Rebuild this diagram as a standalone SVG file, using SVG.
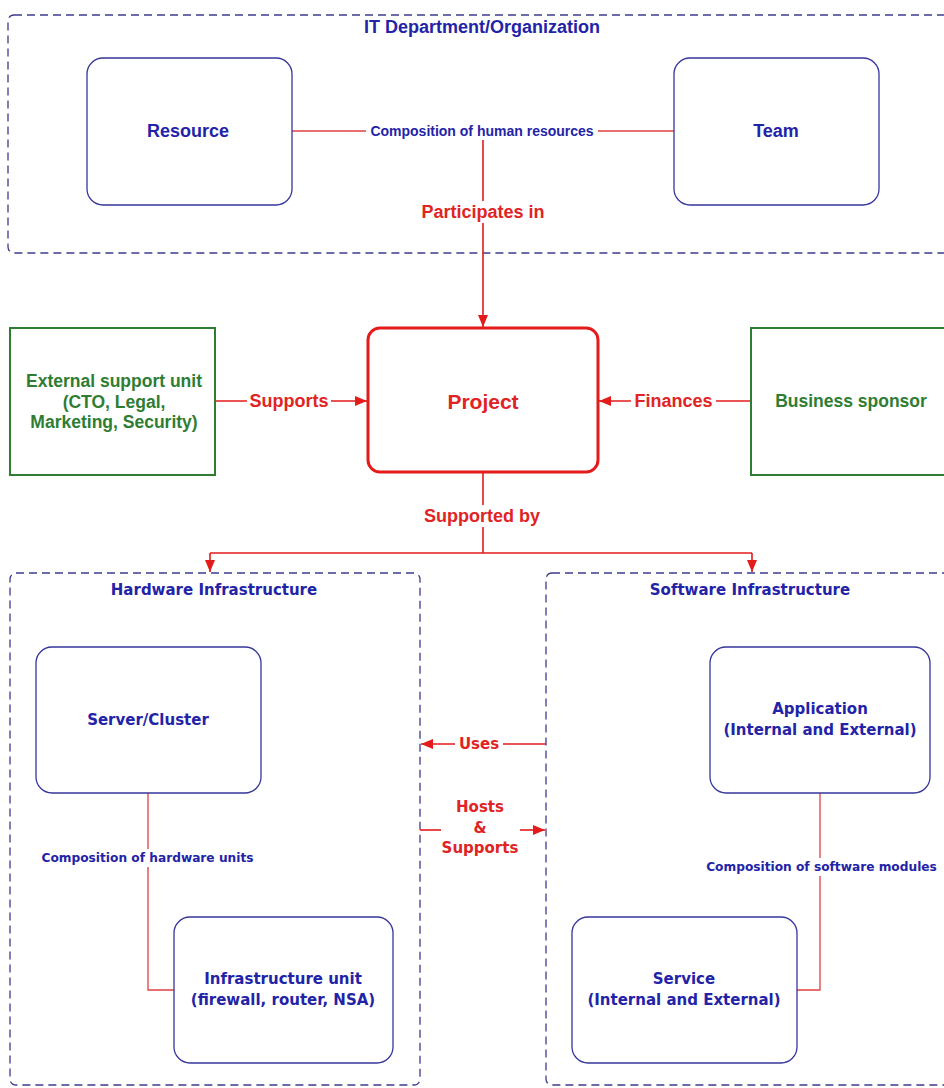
<svg xmlns="http://www.w3.org/2000/svg" width="944" height="1088" viewBox="0 0 944 1088">
  <defs>
    <marker id="arrow" viewBox="0 0 12 10" refX="12" refY="5" markerWidth="12" markerHeight="10" markerUnits="userSpaceOnUse" orient="auto">
      <path d="M0,0 L12,5 L0,10 Z" fill="#e41b1b"/>
    </marker>
    <style>
      .bg { fill: #ffffff; }
      .group { fill: none; stroke: #3c3c8e; stroke-width: 1.3; stroke-dasharray: 8 5; }
      .node { fill: #ffffff; stroke: #36369a; stroke-width: 1.3; }
      .ext { fill: #ffffff; stroke: #2e7d32; stroke-width: 2; }
      .proj { fill: #ffffff; stroke: #e41b1b; stroke-width: 3; }
      .link { fill: none; stroke: #e04040; stroke-width: 1.3; }
      .rel { fill: none; stroke: #e41b1b; stroke-width: 1.6; }
      .lblbg { fill: #ffffff; }
      text { font-family: "Liberation Sans", Arial, sans-serif; font-weight: bold; text-anchor: middle; dominant-baseline: central; }
      .t-blue { fill: #2323a8; font-size: 18px; }
      .t-blue-s { fill: #2323a8; font-size: 14px; }
      .t-red { fill: #e02424; font-size: 18px; }
      .t-green { fill: #2e7d32; font-size: 17.5px; }
      .v { font-family: "DejaVu Sans", Verdana, sans-serif; }
      .v-title { fill: #2323a8; font-size: 15px; }
      .v-node { fill: #2323a8; font-size: 15px; }
      .v-lbl { fill: #2323a8; font-size: 12.2px; }
      .v-red { fill: #e02424; font-size: 15px; }
    </style>
  </defs>

  <rect class="bg" x="0" y="0" width="944" height="1088"/>

  <!-- container groups -->
  <g id="it-department">
    <rect class="group" x="8" y="15" width="960" height="238" rx="6"/>
    <text class="t-blue" x="482" y="27">IT Department/Organization</text>
  </g>
  <g id="hardware-infrastructure">
    <rect class="group" x="10" y="573" width="410" height="512" rx="6"/>
    <text class="v v-title" x="214" y="590">Hardware Infrastructure</text>
  </g>
  <g id="software-infrastructure">
    <rect class="group" x="546" y="573" width="420" height="512" rx="6"/>
    <text class="v v-title" x="750" y="590">Software Infrastructure</text>
  </g>

  <!-- connectors -->
  <g id="connectors">
    <!-- Resource / Team composition -->
    <path class="link" d="M292,131 H674"/>
    <!-- Participates in -->
    <path class="rel" d="M483,131 V327" marker-end="url(#arrow)"/>
    <!-- Supports -->
    <path class="rel" d="M215,401 H367" marker-end="url(#arrow)"/>
    <!-- Finances -->
    <path class="rel" d="M751,401 H599" marker-end="url(#arrow)"/>
    <!-- Supported by -->
    <path class="rel" d="M483,472 V553"/>
    <path class="rel" d="M210,553 H752"/>
    <path class="rel" d="M210,553 V572" marker-end="url(#arrow)"/>
    <path class="rel" d="M752,553 V572" marker-end="url(#arrow)"/>
    <!-- Uses -->
    <path class="rel" d="M546,744 H421" marker-end="url(#arrow)"/>
    <!-- Hosts & Supports -->
    <path class="rel" d="M420,830 H441"/>
    <path class="rel" d="M520,830 H545" marker-end="url(#arrow)"/>
    <!-- hardware composition -->
    <path class="link" d="M148,793 V990 H174"/>
    <!-- software composition -->
    <path class="link" d="M820,793 V990 H797"/>

    <!-- label backgrounds and labels -->
    <rect class="lblbg" x="366" y="122" width="232" height="18"/>
    <text class="t-blue-s" x="482" y="131">Composition of human resources</text>
    <rect class="lblbg" x="414" y="201" width="138" height="22"/>
    <text class="t-red" x="483" y="212">Participates in</text>
    <rect class="lblbg" x="247" y="391" width="84" height="20"/>
    <text class="t-red" x="289" y="401">Supports</text>
    <rect class="lblbg" x="631" y="391" width="85" height="20"/>
    <text class="t-red" x="673.5" y="401">Finances</text>
    <rect class="lblbg" x="421" y="505" width="122" height="22"/>
    <text class="t-red" x="482" y="516">Supported by</text>
    <rect class="lblbg" x="455" y="735" width="48" height="18"/>
    <text class="v v-red" x="479" y="744">Uses</text>
    <text class="v v-red" x="480" y="807">Hosts</text>
    <text class="v v-red" x="480" y="828">&amp;</text>
    <text class="v v-red" x="480" y="848">Supports</text>
    <rect class="lblbg" x="38" y="849" width="219" height="18"/>
    <text class="v v-lbl" x="147.5" y="858">Composition of hardware units</text>
    <rect class="lblbg" x="702" y="858" width="239" height="18"/>
    <text class="v v-lbl" x="821.5" y="867">Composition of software modules</text>
  </g>

  <!-- nodes -->
  <g id="resource">
    <rect class="node" x="87" y="58" width="205" height="147" rx="16"/>
    <text class="t-blue" x="188" y="131">Resource</text>
  </g>
  <g id="team">
    <rect class="node" x="674" y="58" width="205" height="147" rx="16"/>
    <text class="t-blue" x="776" y="131">Team</text>
  </g>
  <g id="project">
    <rect class="proj" x="368" y="328" width="230" height="144" rx="12"/>
    <text class="t-red" x="483" y="401" style="font-size:21px">Project</text>
  </g>
  <g id="external-support-unit">
    <rect class="ext" x="10" y="328" width="205" height="147"/>
    <text class="t-green" x="114" y="381">External support unit</text>
    <text class="t-green" x="114" y="401.5">(CTO, Legal,</text>
    <text class="t-green" x="114" y="422">Marketing, Security)</text>
  </g>
  <g id="business-sponsor">
    <rect class="ext" x="751" y="328" width="220" height="147"/>
    <text class="t-green" x="851" y="401">Business sponsor</text>
  </g>
  <g id="server-cluster">
    <rect class="node" x="36" y="647" width="225" height="146" rx="16"/>
    <text class="v v-node" x="148" y="720">Server/Cluster</text>
  </g>
  <g id="infrastructure-unit">
    <rect class="node" x="174" y="917" width="219" height="146" rx="16"/>
    <text class="v v-node" x="283" y="979">Infrastructure unit</text>
    <text class="v v-node" x="283" y="1000">(firewall, router, NSA)</text>
  </g>
  <g id="application">
    <rect class="node" x="710" y="647" width="220" height="146" rx="16"/>
    <text class="v v-node" x="820" y="709">Application</text>
    <text class="v v-node" x="820" y="730">(Internal and External)</text>
  </g>
  <g id="service">
    <rect class="node" x="572" y="917" width="225" height="146" rx="16"/>
    <text class="v v-node" x="684" y="979">Service</text>
    <text class="v v-node" x="684" y="1000">(Internal and External)</text>
  </g>
</svg>
